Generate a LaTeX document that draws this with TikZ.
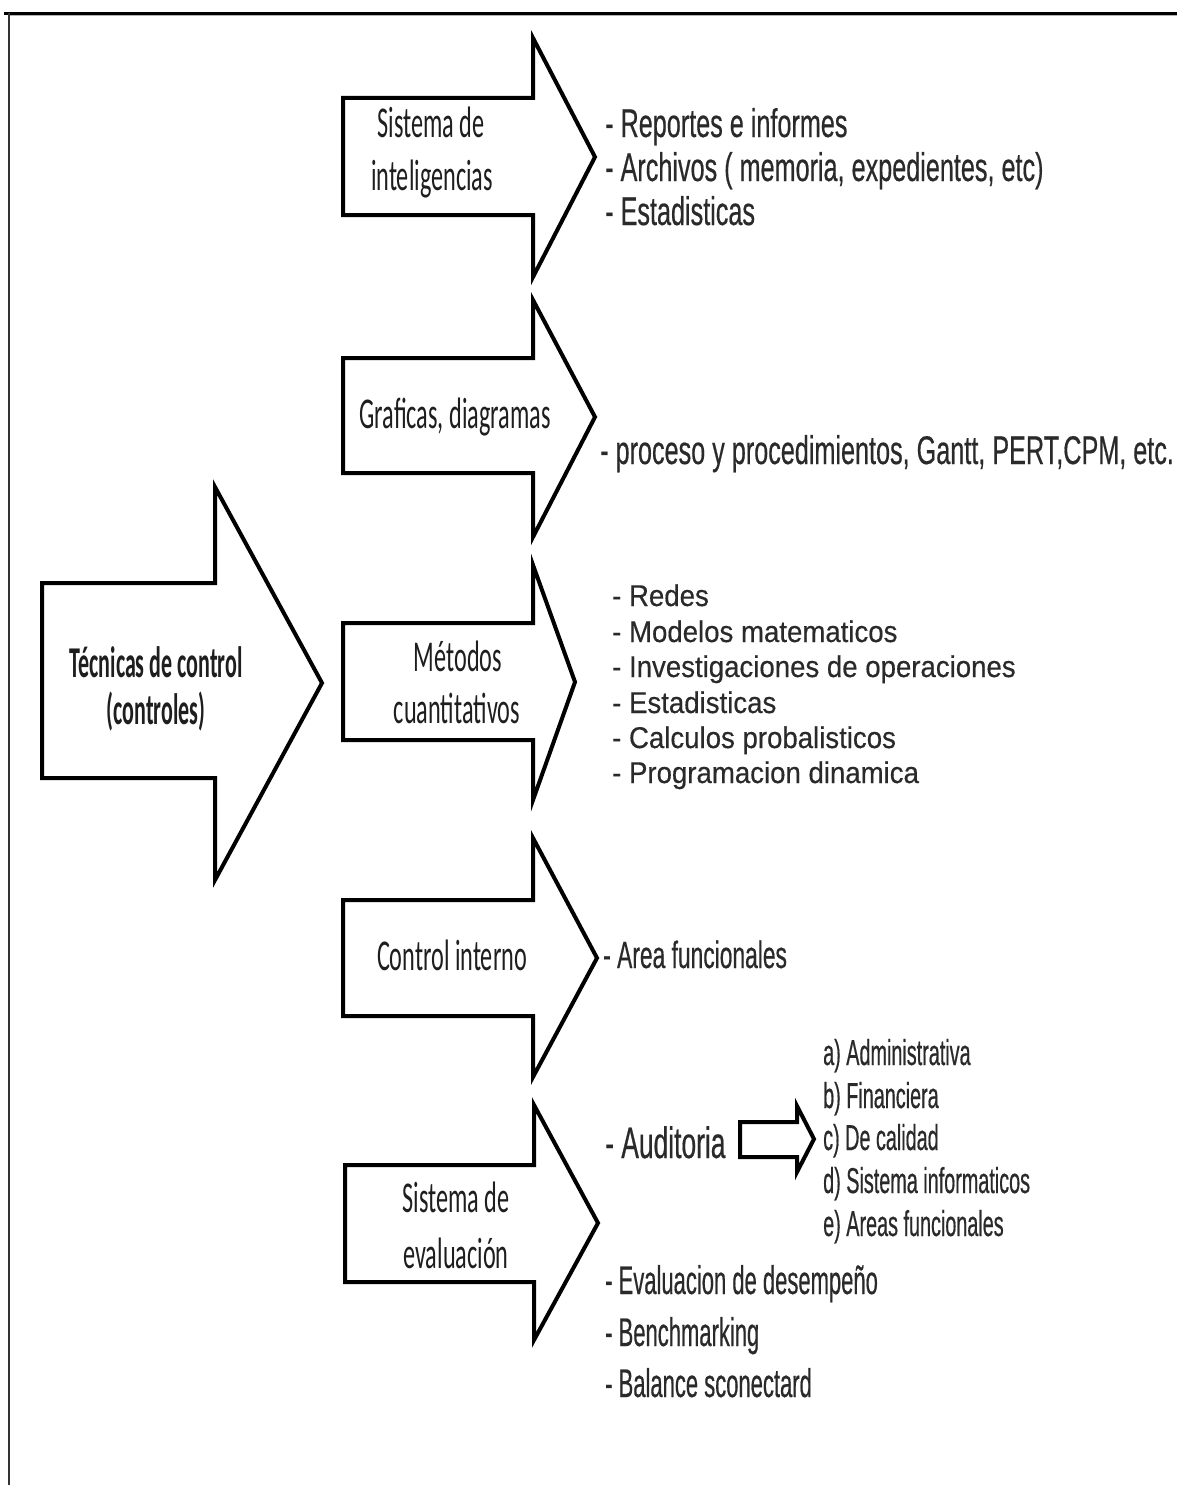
\documentclass[tikz,border=0pt]{standalone}
\usepackage{fontspec}
% Box captions (Calibri metrics) and list items (Arial metrics), set narrow
\newfontfamily\labelfont[FakeStretch=0.55]{Carlito}
\newfontfamily\titlefont[FakeStretch=0.5]{Carlito}
\newfontfamily\itemfont[FakeStretch=0.63,FakeBold=0.4]{Liberation Sans}
\newfontfamily\tallitemfont[FakeStretch=0.6,FakeBold=0.4]{Liberation Sans}
\newfontfamily\wideitemfont[FakeStretch=0.92,FakeBold=0.4]{Liberation Sans}
\newfontfamily\narrowitemfont[FakeStretch=0.55,FakeBold=0.4]{Liberation Sans}

\definecolor{ink}{HTML}{1E1E1E}
\definecolor{itemink}{HTML}{2A2A2A}

% Block arrow: left x, head base x, tip x, body top, body bottom, head top, head bottom, tip y
\newcommand\fatarrow[8]{%
  \draw[blockarrow] (#1,#4) -- (#2,#4) -- (#2,#6) -- (#3,#8) -- (#2,#7) -- (#2,#5) -- (#1,#5) -- cycle;}

\tikzset{
  blockarrow/.style={draw=black, line width=4pt, line join=miter, miter limit=20, fill=white},
  lbl/.style={anchor=base, inner sep=0pt, text=ink, font={\labelfont\fontsize{44}{52}\selectfont}},
  ttl/.style={anchor=base, inner sep=0pt, text=ink, font={\titlefont\bfseries\fontsize{44}{52}\selectfont}},
  item/.style={anchor=base west, inner sep=0pt, text=itemink, font={\itemfont\fontsize{40}{48}\selectfont}},
  itemmid/.style={anchor=base west, inner sep=0pt, text=itemink, font={\tallitemfont\fontsize{38}{46}\selectfont}},
  itembig/.style={anchor=base west, inner sep=0pt, text=itemink, font={\tallitemfont\fontsize{44}{52}\selectfont}},
  itemwide/.style={anchor=base west, inner sep=0pt, text=itemink, font={\wideitemfont\fontsize{30}{36}\selectfont}},
  itemsub/.style={anchor=base west, inner sep=0pt, text=itemink, font={\narrowitemfont\fontsize{36}{43}\selectfont}},
  itemlow/.style={anchor=base west, inner sep=0pt, text=itemink, font={\narrowitemfont\fontsize{40}{48}\selectfont}},
}

\begin{document}
\begin{tikzpicture}[x=1pt, y=-1pt]
  \useasboundingbox (0,0) rectangle (1177,1485);
  \fill[white] (0,0) rectangle (1177,1485);

  % page frame (top and left edges)
  \draw[black, line width=2.5pt] (4,13.5) -- (1177,13.5);
  \draw[gray!60, line width=1pt] (9,15.5) -- (1177,15.5);
  \draw[black!80, line width=1.5pt] (9,13) -- (9,1485);

  % main arrow
  \fatarrow{42}{215}{322}{583}{778}{487}{880}{683}
  \node[ttl] (tec1) at (156,677) {Técnicas de control};
  \node[ttl] (tec2) at (156,724) {(controles)};

  % Sistema de inteligencias
  \fatarrow{343}{533}{595}{98}{215}{38}{277}{157}
  \node[lbl] (si1) at (431,137) {Sistema de};
  \node[lbl] (si2) at (432,190) {inteligencias};
  \node[item] (si-a) at (605,137) {- Reportes e informes};
  \node[item] (si-b) at (605,181) {- Archivos ( memoria, expedientes, etc)};
  \node[item] (si-c) at (605,225) {- Estadisticas};

  % Graficas, diagramas
  \fatarrow{343}{533}{595}{358}{473}{300}{537}{417}
  \node[lbl] (gd) at (455,428) {Graficas, diagramas};
  \node[item] (gd-a) at (600,464) {- proceso y procedimientos, Gantt, PERT,CPM, etc.};

  % Metodos cuantitativos
  \fatarrow{343}{533}{575}{623}{740}{565}{800}{682}
  \node[lbl] (mc1) at (458,671) {Métodos};
  \node[lbl] (mc2) at (457,723) {cuantitativos};
  \node[itemwide] (mc-a) at (612,606) {- Redes};
  \node[itemwide] (mc-b) at (612,642) {- Modelos matematicos};
  \node[itemwide] (mc-c) at (612,677) {- Investigaciones de operaciones};
  \node[itemwide] (mc-d) at (612,713) {- Estadisticas};
  \node[itemwide] (mc-e) at (612,748) {- Calculos probalisticos};
  \node[itemwide] (mc-f) at (612,783) {- Programacion dinamica};

  % Control interno
  \fatarrow{343}{533}{597}{900}{1016}{838}{1077}{958}
  \node[lbl] (ci) at (452,970) {Control interno};
  \node[itemmid] (ci-a) at (603,968) {- Area funcionales};

  % Sistema de evaluacion
  \fatarrow{345}{534}{598}{1165}{1282}{1105}{1340}{1223}
  \node[lbl] (se1) at (456,1212) {Sistema de};
  \node[lbl] (se2) at (456,1268) {evaluación};
  \node[itembig] (aud) at (605,1158) {- Auditoria};

  % small arrow from Auditoria to its kinds
  \draw[blockarrow] (740,1122) -- (797,1122) -- (797,1106) -- (814,1139)
        -- (797,1172) -- (797,1157) -- (740,1157) -- cycle;
  \node[itemsub] (aud-a) at (823,1065) {a) Administrativa};
  \node[itemsub] (aud-b) at (823,1108) {b) Financiera};
  \node[itemsub] (aud-c) at (823,1150) {c) De calidad};
  \node[itemsub] (aud-d) at (823,1193) {d) Sistema informaticos};
  \node[itemsub] (aud-e) at (823,1236) {e) Areas funcionales};

  \node[itemlow] (se-a) at (605,1294) {- Evaluacion de desempeño};
  \node[itemlow] (se-b) at (605,1346) {- Benchmarking};
  \node[itemlow] (se-c) at (605,1397) {- Balance sconectard};
\end{tikzpicture}
\end{document}
